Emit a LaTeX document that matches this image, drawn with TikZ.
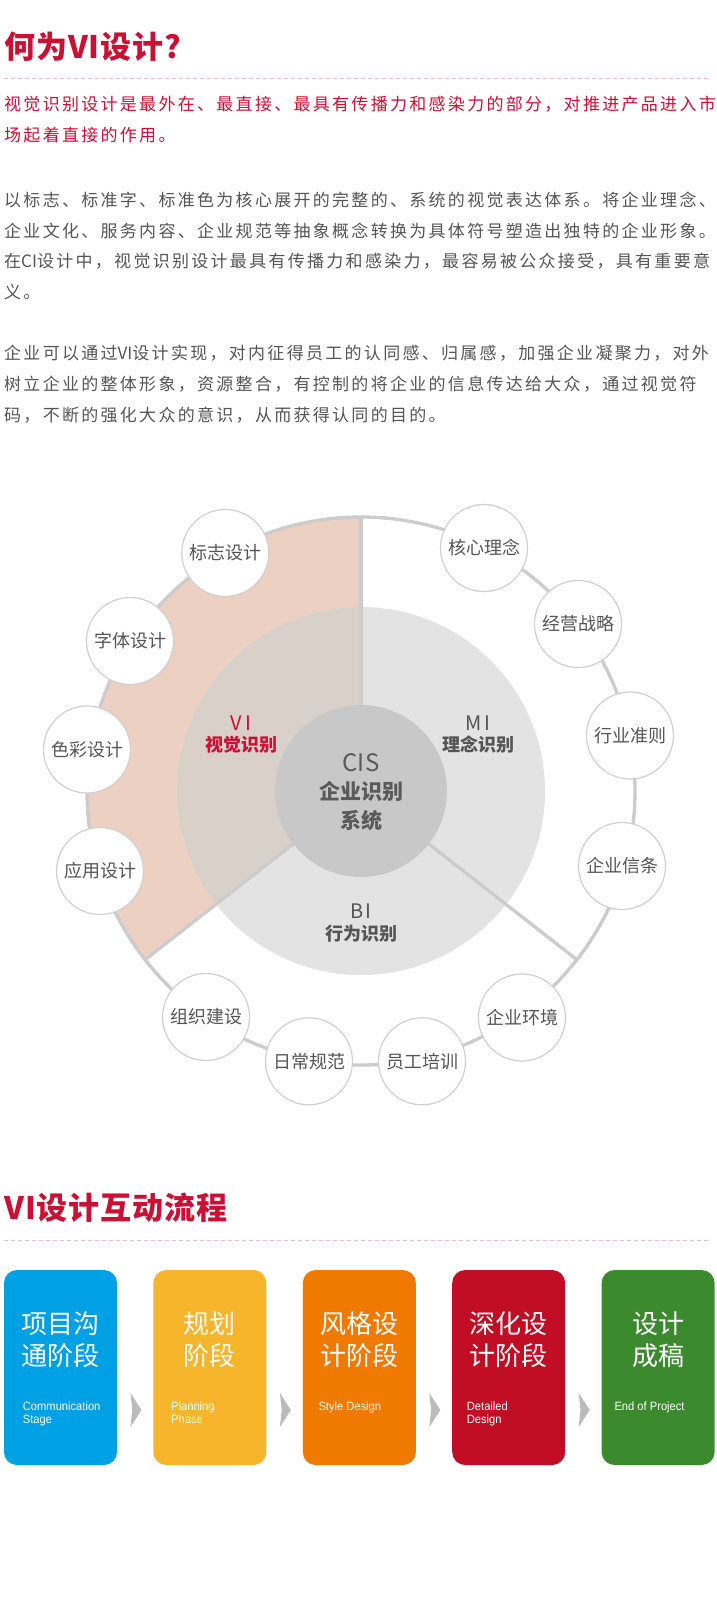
\documentclass[tikz,border=0pt]{standalone}
\usepackage{fontspec}
\setmainfont{Liberation Sans}
\newfontfamily\cjk{Noto Sans CJK SC}
\newfontfamily\cjkls[LetterSpace=13.5]{Noto Sans CJK SC}
\newfontfamily\cjkt[LetterSpace=3]{Noto Sans CJK SC}
\newfontfamily\enfont[FakeStretch=0.93]{Liberation Sans}
\usetikzlibrary{calc}
\definecolor{vired}{RGB}{204,16,52}
\definecolor{dashpink}{RGB}{245,185,200}
\definecolor{bodygray}{RGB}{85,85,85}
\definecolor{peach}{RGB}{236,209,194}
\definecolor{overlap}{RGB}{218,208,202}
\definecolor{midgray}{RGB}{227,227,227}
\definecolor{cisgray}{RGB}{200,200,200}
\definecolor{ringgray}{RGB}{204,204,204}
\definecolor{scborder}{RGB}{208,208,208}
\definecolor{labgray}{RGB}{85,85,85}
\definecolor{cistext}{RGB}{90,90,90}
\definecolor{arrowgray}{RGB}{187,187,187}
\definecolor{cblue}{RGB}{0,160,228}
\definecolor{cyellow}{RGB}{247,181,44}
\definecolor{corange}{RGB}{240,122,0}
\definecolor{cred}{RGB}{193,14,36}
\definecolor{cgreen}{RGB}{60,138,46}
\tikzset{
  ttl/.style={anchor=west, inner sep=0pt, text=vired, font=\cjkt\bfseries\fontsize{31}{31}\selectfont, text height=27.3pt, text depth=3.7pt},
  dashln/.style={draw=dashpink, line width=1pt, dash pattern=on 4pt off 3pt},
  bodyr/.style={anchor=west, inner sep=0pt, text=vired, font=\cjkls\fontsize{17}{17}\selectfont, text height=15pt, text depth=2pt},
  bodyg/.style={bodyr, text=bodygray},
  ringline/.style={draw=ringgray, line width=3.3pt},
  sc/.style={circle, minimum size=87pt, inner sep=0pt, fill=white, draw=scborder, line width=1.2pt, text=labgray, font=\cjk\fontsize{18}{18}\selectfont, text height=15.8pt, text depth=2.2pt},
  sectlab/.style={inner sep=0pt, font=\cjkls\fontsize{20}{20}\selectfont},
  sectsub/.style={inner sep=0pt, font=\cjk\bfseries\fontsize{18}{18}\selectfont, text height=15.8pt, text depth=2.2pt},
  cisbig/.style={inner sep=0pt, text=cistext, font=\cjk\fontsize{24}{24}\selectfont},
  cissub/.style={inner sep=0pt, text=cistext, font=\cjk\bfseries\fontsize{21}{21}\selectfont, text height=18.5pt, text depth=2.5pt},
  box/.style={rounded corners=13pt, minimum width=113pt, minimum height=195pt, inner sep=0pt, outer sep=0pt},
  boxcn/.style={inner sep=0pt, text=white, font=\cjk\fontsize{26}{26}\selectfont, text height=22.9pt, text depth=3.1pt},
  boxen/.style={anchor=base west, inner sep=0pt, text=white, font=\enfont\fontsize{12}{12}\selectfont},
}
\begin{document}
\begin{tikzpicture}[x=1pt,y=1pt]
\useasboundingbox (0,0) rectangle (716,-1598);
\fill[white] (0,0) rectangle (716,-1598);

% ---------- section 1 ----------
\node[ttl] (t1) at (4,-47) {何为VI设计?};
\coordinate (d1a) at (4,-78);
\coordinate (d1b) at (708,-78);
\draw[dashln] (d1a) -- (d1b);

\node[bodyr] (l1) at (4,-104) {视觉识别设计是最外在、最直接、最具有传播力和感染力的部分，对推进产品进入市};
\node[bodyr] (l2) at (4,-134.7) {场起着直接的作用。};
\node[bodyg] (l3) at (4,-200) {以标志、标准字、标准色为核心展开的完整的、系统的视觉表达体系。将企业理念、};
\node[bodyg] (l4) at (4,-230.7) {企业文化、服务内容、企业规范等抽象概念转换为具体符号塑造出独特的企业形象。};
\node[bodyg] (l5) at (4,-261.3) {在{\cjk CI}设计中，视觉识别设计最具有传播力和感染力，最容易被公众接受，具有重要意};
\node[bodyg] (l6) at (4,-292) {义。};
\node[bodyg] (l7) at (4,-353.3) {企业可以通过{\cjk VI}设计实现，对内征得员工的认同感、归属感，加强企业凝聚力，对外};
\node[bodyg] (l8) at (4,-384) {树立企业的整体形象，资源整合，有控制的将企业的信息传达给大众，通过视觉符};
\node[bodyg] (l9) at (4,-414.7) {码，不断的强化大众的意识，从而获得认同的目的。};

% ---------- diagram ----------
\coordinate (C) at (361,-791);
\fill[peach] (C) -- ++(90:274) arc[start angle=90, end angle=218, radius=274] -- cycle;
\fill[midgray] (C) circle[radius=184];
\fill[overlap] (C) -- ++(90:184) arc[start angle=90, end angle=218, radius=184] -- cycle;
\draw[ringline] (C) -- ++(90:274);
\draw[ringline] (C) -- ++(218:274);
\draw[ringline] (C) -- ++(322:274);
\fill[cisgray] (C) circle[radius=86];
\draw[ringline] (C) circle[radius=274];

\node[sc] (s1) at (225.3,-553) {标志设计};
\node[sc] (s2) at (130,-641) {字体设计};
\node[sc] (s3) at (87,-749.5) {色彩设计};
\node[sc] (s4) at (100,-871) {应用设计};
\node[sc] (s5) at (206,-1017) {组织建设};
\node[sc] (s6) at (309,-1061.3) {日常规范};
\node[sc] (s7) at (422,-1061.3) {员工培训};
\node[sc] (s8) at (522,-1017.5) {企业环境};
\node[sc] (s9) at (622,-866) {企业信条};
\node[sc] (s10) at (630,-735.5) {行业准则};
\node[sc] (s11) at (578,-624) {经营战略};
\node[sc] (s12) at (484,-548) {核心理念};

\node[sectlab, text=vired] (vi) at (241,-723) {VI};
\node[sectsub, text=vired] (vis) at (241,-745) {视觉识别};
\node[sectlab, text=labgray] (mi) at (478,-723) {MI};
\node[sectsub, text=labgray] (mis) at (478,-745) {理念识别};
\node[sectlab, text=labgray] (bi) at (361,-911) {BI};
\node[sectsub, text=labgray] (bis) at (361,-933.7) {行为识别};
\node[cisbig] (cis) at (361,-763) {CIS};
\node[cissub] (cisa) at (361,-791.7) {企业识别};
\node[cissub] (cisb) at (361,-820) {系统};

% ---------- section 2 ----------
\node[ttl] (t2) at (4,-1208) {VI设计互动流程};
\coordinate (d2a) at (4,-1240);
\coordinate (d2b) at (708,-1240);
\draw[dashln] (d2a) -- (d2b);

\node[box, fill=cblue] (b1) at (60.5,-1367.5) {};
\node[box, fill=cyellow] (b2) at (209.9,-1367.5) {};
\node[box, fill=corange] (b3) at (359.3,-1367.5) {};
\node[box, fill=cred] (b4) at (508.7,-1367.5) {};
\node[box, fill=cgreen] (b5) at (658.1,-1367.5) {};

\foreach \a in {b1,b2,b3,b4}{
  \fill[arrowgray] ($(\a.east)+(13.5,-25.5)$) -- ($(\a.east)+(24.5,-42.5)$) -- ($(\a.east)+(13.5,-59.5)$) -- ($(\a.east)+(15.3,-42.5)$) -- cycle;
}

\node[boxcn] (b1a) at ($(b1.north)+(0,-53.5)$) {项目沟};
\node[boxcn] (b1b) at ($(b1.north)+(0,-86)$) {通阶段};
\node[boxcn] (b2a) at ($(b2.north)+(0,-53.5)$) {规划};
\node[boxcn] (b2b) at ($(b2.north)+(0,-86)$) {阶段};
\node[boxcn] (b3a) at ($(b3.north)+(0,-53.5)$) {风格设};
\node[boxcn] (b3b) at ($(b3.north)+(0,-86)$) {计阶段};
\node[boxcn] (b4a) at ($(b4.north)+(0,-53.5)$) {深化设};
\node[boxcn] (b4b) at ($(b4.north)+(0,-86)$) {计阶段};
\node[boxcn] (b5a) at ($(b5.north)+(0,-53.5)$) {设计};
\node[boxcn] (b5b) at ($(b5.north)+(0,-86)$) {成稿};

\node[boxen] (b1e) at ($(b1.north west)+(18.7,-140.7)$) {Communication};
\node[boxen] (b1f) at ($(b1.north west)+(18.7,-153.3)$) {Stage};
\node[boxen] (b2e) at ($(b2.north west)+(17.6,-140.7)$) {Planning};
\node[boxen] (b2f) at ($(b2.north west)+(17.6,-153.3)$) {Phase};
\node[boxen] (b3e) at ($(b3.north west)+(15.5,-140.7)$) {Style Design};
\node[boxen] (b4e) at ($(b4.north west)+(14.5,-140.7)$) {Detailed};
\node[boxen] (b4f) at ($(b4.north west)+(14.5,-153.3)$) {Design};
\node[boxen] (b5e) at ($(b5.north west)+(12.7,-140.7)$) {End of Project};
\end{tikzpicture}
\end{document}
